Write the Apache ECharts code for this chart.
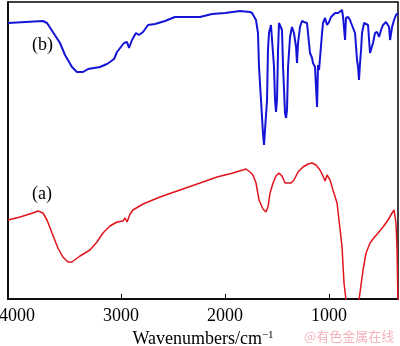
<!DOCTYPE html>
<html><head><meta charset="utf-8">
<script src="https://cdn.jsdelivr.net/npm/echarts@6/dist/echarts.min.js"></script>
<style>html,body{margin:0;padding:0;background:#fff}#c{width:400px;height:346px}</style>
</head><body><div id="c"></div>
<script>
// Wavenumber (cm^-1) and transmittance (arbitrary units)
const tickValues = [1000, 2000, 3000, 4000];
const curveLabels = ['(a)', '(b)'];
const wnB = [4086,3750,3711,3586,3538,3471,3423,3365,3317,3202,3135,3106,3067,3038,2971,2942,2923,2894,2856,2827,2788,2740,2673,2577,2481,2240,2125,2000,1856,1760,1740,1731,1702,1683,1673,1654,1635,1625,1606,1596,1587,1577,1558,1548,1529,1519,1510,1500,1490,1481,1462,1452,1442,1423,1413,1404,1394,1375,1356,1337,1317,1308,1298,1279,1260,1240,1231,1212,1202,1183,1163,1154,1135,1115,1106,1096,1067,1058,1038,1019,1000,981,962,942,913,894,875,865,846,837,817,798,788,769,750,731,721,712,702,692,683,663,644,625,615,606,587,577,558,538,519,500,481,452,433,423,413,394,375,356,337];
const tB = [276,278,276,256,244,232,227,227,230,232,235,237,240,247,256,257,251,259,266,264,267,274,275,278,282,282,285,286,288,287,286,284,279,266,232,199,166,154,156,199,249,266,274,275,232,199,187,199,249,276,278,269,232,186,181,189,232,262,272,266,252,236,256,272,278,277,279,276,266,246,241,236,232,192,234,229,266,276,281,274,277,282,284,286,286,286,289,282,259,281,282,279,276,274,266,239,232,219,236,249,266,276,276,274,259,246,244,256,266,267,262,269,274,277,279,272,259,272,279,284,286];
const wnA = [4086,3971,3846,3798,3750,3711,3663,3606,3558,3510,3471,3394,3298,3231,3173,3106,3038,2981,2961,2942,2913,2885,2788,2625,2433,2240,2077,1923,1798,1760,1731,1702,1673,1635,1606,1587,1567,1538,1510,1481,1452,1423,1394,1365,1337,1298,1250,1202,1163,1125,1087,1058,1038,1019,990,962,923,904,875,856,837,800,712,673,644,606,577,529,481,433,394,375,356,346,337];
const tA = [79,82,86,88,86,79,66,51,42,37,37,43,49,57,66,73,77,78,81,77,85,89,95,102,109,116,122,126,130,127,124,116,99,90,87,92,106,116,123,126,123,116,116,116,119,127,132,135,136,134,129,123,118,124,119,109,96,79,52,16,-1,-30,-1,29,46,56,60,66,72,79,86,89,76,49,-5];

const zip = (xs, ys) => xs.map((x, i) => [x, ys[i]]);
const serif = "'Liberation Serif','Times New Roman',serif";
const chart = echarts.init(document.getElementById('c'));
chart.setOption({
  animation: false,
  grid: {left: 8, right: 2, top: 2, bottom: 47, containLabel: false, outerBoundsMode: 'none', show: true, borderColor: '#000', borderWidth: 1.5, backgroundColor: 'transparent'},
  xAxis: {
    type: 'value', inverse: true, min: 337, max: 4086,
    axisLine: {lineStyle: {color: '#000', width: 1.5}},
    axisTick: {inside: true, length: 5, lineStyle: {color: '#000'}, customValues: [1000, 2000, 3000]},
    axisLabel: {customValues: tickValues, color: '#000', fontFamily: serif, fontSize: 18, margin: 8, formatter: v => String(v), hideOverlap: false, showMinLabel: true, showMaxLabel: true},
    splitLine: {show: false},
    name: 'Wavenumbers/cm{sup|\u22121}', nameLocation: 'middle', nameGap: 28,
    nameTextStyle: {color: '#000', fontFamily: serif, fontSize: 18,
      rich: {sup: {fontFamily: serif, fontSize: 11, verticalAlign: 'top', padding: [0,0,8,0], color: '#000'}}}
  },
  yAxis: {
    type: 'value', min: 0, max: 297,
    axisLine: {show: true, lineStyle: {color: '#000', width: 1.5}},
    axisTick: {show: false}, axisLabel: {show: false}, splitLine: {show: false}
  },
  series: [
    {type: 'line', name: curveLabels[1], data: zip(wnB, tB), showSymbol: false, lineStyle: {color: '#1414d6', width: 2}, clip: true},
    {type: 'line', name: curveLabels[0], data: zip(wnA, tA), showSymbol: false, lineStyle: {color: '#e0141c', width: 1.5}, clip: true}
  ],
  graphic: [
    {type: 'text', left: 32, top: 36, style: {text: curveLabels[1], font: "18px " + serif, fill: '#000'}},
    {type: 'text', left: 32, top: 185, style: {text: curveLabels[0], font: "18px " + serif, fill: '#000'}},
    {type: 'text', left: 304, top: 330, style: {text: '@有色金属在线', font: "13px 'Noto Sans CJK SC'", fill: '#f3b4bd'}}
  ]
});
</script></body></html>
